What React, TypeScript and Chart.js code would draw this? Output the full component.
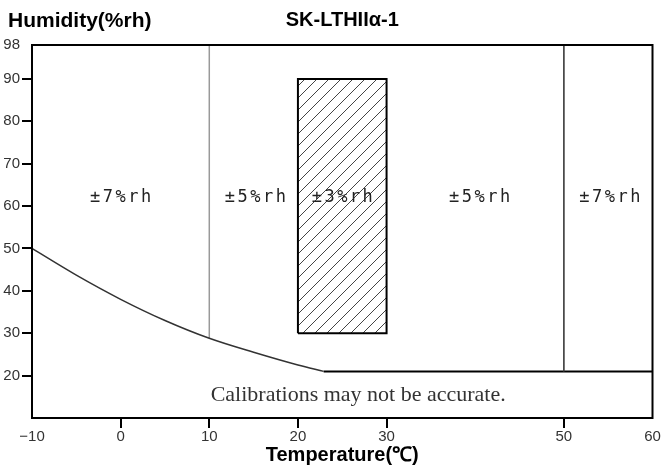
import React, { useEffect, useRef } from 'react';
import { Chart, registerables } from 'chart.js';

Chart.register(...registerables);

// ---- data ----
const xTicks = [-10, 0, 10, 20, 30, 50, 60];
const yTicks = [98, 90, 80, 70, 60, 50, 40, 30, 20];

const curveTemp = [-10, -5, 0, 5, 10, 15, 20, 22.9];
const curveHum = [50, 43.7, 38, 33, 28.8, 25.5, 22.5, 21];

const boxTemp = [20, 20, 30, 30, 20];
const boxHum = [30, 90, 90, 30, 30];

const line10Temp = [10, 10];
const line10Hum = [98, 28.8];

const line50Temp = [50, 50];
const line50Hum = [98, 21];

const floorTemp = [22.9, 60];
const floorHum = [21, 21];

const zoneLabels = ['±7%rh', '±5%rh', '±3%rh', '±5%rh', '±7%rh'];
const zoneTemps = [0, 15.2, 25, 40.5, 55.2];
const zoneHums = [61, 61, 61, 61, 61];

const noteText = 'Calibrations may not be accurate.';
const noteTemp = 26.8;
const noteHum = 14;

const chartTitle = 'SK-LTHIIα-1';
const yTitle = 'Humidity(%rh)';
const xTitle = 'Temperature(℃)';

function pts(xs: number[], ys: number[]) {
  return xs.map((x, i) => ({ x, y: ys[i] }));
}

const decorPlugin = {
  id: 'decor',
  afterDatasetsDraw(chart: any) {
    const { ctx, chartArea: a, scales } = chart;
    const sx = scales.x;
    const sy = scales.y;
    ctx.save();
    // frame
    ctx.strokeStyle = '#000';
    ctx.lineWidth = 2;
    ctx.strokeRect(a.left, a.top, a.right - a.left, a.bottom - a.top);
    // zone labels
    ctx.fillStyle = '#222';
    ctx.font = '17px "DejaVu Sans Mono"';
    (ctx as any).letterSpacing = '2.5px';
    ctx.textAlign = 'center';
    ctx.textBaseline = 'alphabetic';
    zoneLabels.forEach((t, i) => {
      ctx.fillText(t, sx.getPixelForValue(zoneTemps[i]) + 1.25, sy.getPixelForValue(zoneHums[i]));
    });
    (ctx as any).letterSpacing = '0px';
    // note
    ctx.fillStyle = '#333';
    ctx.font = '22px "Liberation Serif"';
    ctx.fillText(noteText, sx.getPixelForValue(noteTemp), sy.getPixelForValue(noteHum));
    ctx.restore();
  },
  afterDraw(chart: any) {
    const { ctx } = chart;
    ctx.save();
    ctx.fillStyle = '#000';
    ctx.font = 'bold 21px "Liberation Sans"';
    ctx.textAlign = 'left';
    ctx.textBaseline = 'alphabetic';
    ctx.fillText(yTitle, 8, 27);
    ctx.restore();
  },
};

export default function App() {
  const ref = useRef<HTMLCanvasElement>(null);
  useEffect(() => {
    const canvas = ref.current!;
    const ctx = canvas.getContext('2d')!;
    const tile = document.createElement('canvas');
    tile.width = 12;
    tile.height = 12;
    const g = tile.getContext('2d')!;
    g.strokeStyle = '#444';
    g.lineWidth = 1;
    g.beginPath();
    g.moveTo(0, 12); g.lineTo(12, 0);
    g.moveTo(-6, 6); g.lineTo(6, -6);
    g.moveTo(6, 18); g.lineTo(18, 6);
    g.stroke();
    const hatch = ctx.createPattern(tile, 'repeat');

    const tickFont = { family: '"Liberation Sans", Arial, sans-serif', size: 15 };
    const chart = new Chart(canvas, {
      type: 'scatter',
      data: {
        datasets: [
          {
            data: pts(boxTemp, boxHum),
            showLine: true,
            fill: 'shape',
            backgroundColor: hatch as any,
            borderColor: '#000',
            borderWidth: 2,
            pointRadius: 0,
          },
          {
            data: pts(curveTemp, curveHum),
            showLine: true,
            borderColor: '#333',
            borderWidth: 1.5,
            cubicInterpolationMode: 'monotone',
            pointRadius: 0,
          },
          {
            data: pts(line10Temp, line10Hum),
            showLine: true,
            borderColor: '#999',
            borderWidth: 1.5,
            pointRadius: 0,
          },
          {
            data: pts(line50Temp, line50Hum),
            showLine: true,
            borderColor: '#444',
            borderWidth: 1,
            pointRadius: 0,
          },
          {
            data: pts(floorTemp, floorHum),
            showLine: true,
            borderColor: '#000',
            borderWidth: 2,
            pointRadius: 0,
          },
        ],
      },
      options: {
        responsive: false,
        animation: false,
        devicePixelRatio: 1,
        layout: { padding: { left: 0, right: 10.5, top: 0, bottom: 0 } },
        plugins: {
          legend: { display: false },
          tooltip: { enabled: false },
          title: {
            display: true,
            text: chartTitle,
            fullSize: false,
            color: '#000',
            font: { family: '"Liberation Sans", Arial, sans-serif', size: 20, weight: 'bold' },
            padding: { top: 8, bottom: 13 },
          },
        },
        scales: {
          x: {
            type: 'linear',
            min: -10,
            max: 60,
            afterBuildTicks: (s: any) => {
              s.ticks = xTicks.map((v) => ({ value: v }));
            },
            afterFit: (s: any) => {
              s.height = 53;
              s.paddingLeft = 0;
              s.paddingRight = 0;
            },
            border: { display: false },
            grid: {
              display: true,
              drawOnChartArea: false,
              drawTicks: true,
              tickLength: 10,
              lineWidth: 2,
              color: (c: any) => (c.tick && (c.tick.value === -10 || c.tick.value === 60) ? 'rgba(0,0,0,0)' : '#000'),
            },
            ticks: {
              padding: 0,
              color: '#333',
              font: tickFont,
              maxRotation: 0,
              autoSkip: false,
              callback: (v: any) => (v === -10 ? '−10' : String(v)),
            },
            title: {
              display: true,
              text: xTitle,
              color: '#000',
              font: { family: '"Liberation Sans", Arial, sans-serif', size: 20, weight: 'bold' },
              padding: { top: 0, bottom: 4 },
            },
          },
          y: {
            type: 'linear',
            min: 10,
            max: 98,
            afterBuildTicks: (s: any) => {
              s.ticks = yTicks.map((v) => ({ value: v }));
            },
            afterFit: (s: any) => {
              s.width = 32;
              s.paddingTop = 0;
              s.paddingBottom = 0;
            },
            border: { display: false },
            grid: {
              display: true,
              drawOnChartArea: false,
              drawTicks: true,
              tickLength: 10,
              lineWidth: 2,
              color: (c: any) => (c.tick && c.tick.value === 98 ? 'rgba(0,0,0,0)' : '#000'),
            },
            ticks: {
              padding: 2,
              color: '#333',
              font: tickFont,
              autoSkip: false,
              callback: (v: any) => String(v),
            },
          },
        },
      },
      plugins: [decorPlugin],
    } as any);
    return () => chart.destroy();
  }, []);

  return (
    <div style={{ position: 'absolute', left: 0, top: 0, width: 663, height: 471, background: '#fff' }}>
      <canvas ref={ref} width={663} height={471} style={{ display: 'block' }} />
    </div>
  );
}
